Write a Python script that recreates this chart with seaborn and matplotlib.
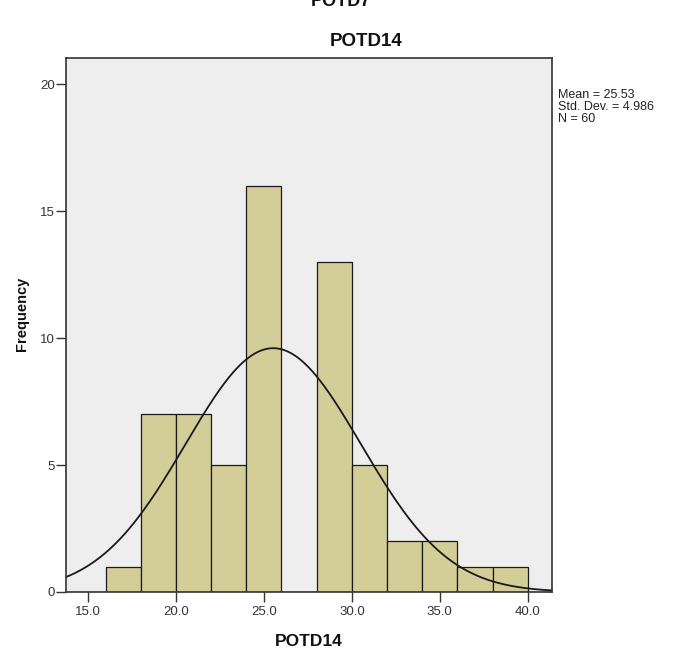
import numpy as np
import pandas as pd
import matplotlib
matplotlib.use("Agg")
import matplotlib.pyplot as plt
import seaborn as sns

# Data
bin_edges = [16, 18, 20, 22, 24, 26, 28, 30, 32, 34, 36, 38, 40]
counts = [1, 7, 7, 5, 16, 0, 13, 5, 2, 2, 1, 1]
mean_val = 25.53
std_val = 4.986
n_val = 60
x_ticks = [15.0, 20.0, 25.0, 30.0, 35.0, 40.0]
y_ticks = [0, 5, 10, 15, 20]

sns.set_style("white")
plt.rcParams['font.family'] = ['Arial', 'Liberation Sans', 'DejaVu Sans']

fig = plt.figure(figsize=(6.76, 6.55), dpi=100)
ax = fig.add_axes([66/676, 1-592/655, (552-66)/676, (592-58)/655])
ax.set_facecolor('#EEEEEE')

centers = [(a + b) / 2 for a, b in zip(bin_edges[:-1], bin_edges[1:])]
df = pd.DataFrame({"x": centers, "w": counts})
sns.histplot(data=df, x="x", weights="w", bins=bin_edges, ax=ax,
             color='#D3CD97', edgecolor='#1a1a1a', linewidth=0.9, alpha=1.0)

xlo, xhi = 13.75, 41.38
xs = np.linspace(xlo, xhi, 400)
binw = bin_edges[1] - bin_edges[0]
ys = n_val * binw / (std_val * np.sqrt(2 * np.pi)) * np.exp(-0.5 * ((xs - mean_val) / std_val) ** 2)
sns.lineplot(x=xs, y=ys, ax=ax, color='#1a1a1a', linewidth=1.3)

ax.set_xlim(xlo, xhi)
ax.set_ylim(0, 21.03)
ax.set_xticks(x_ticks)
ax.set_xticklabels([f"{t:.1f}" for t in x_ticks])
ax.set_yticks(y_ticks)
ax.set_yticklabels([str(t) for t in y_ticks])
ax.tick_params(axis='both', direction='out', length=7, width=1, color='#333333',
               labelsize=9.5, labelcolor='#333333', pad=1)
ax.tick_params(axis='x', bottom=True, pad=3)
ax.tick_params(axis='y', left=True)
for s in ax.spines.values():
    s.set_color('#333333')
    s.set_linewidth(1.2)

ax.set_xlabel("POTD14", fontsize=12.5, fontweight='bold', color='#111111')
ax.xaxis.set_label_coords(0.5, (592 - 641) / (592 - 58), transform=ax.transAxes)
ax.xaxis.label.set_va('center')
ax.set_ylabel("Frequency", fontsize=10.5, fontweight='bold', color='#111111')
ax.yaxis.set_label_coords((22 - 66) / (552 - 66), (592 - 314) / (592 - 58), transform=ax.transAxes)
ax.yaxis.label.set_va('center')

fig.text(366/676, 1-42/655, "POTD14", fontsize=13.5, fontweight='bold',
         ha='center', va='center', color='#111111')

fig.text(558/676, 1-89/655, f"Mean = {mean_val}\nStd. Dev. = {std_val}\nN = {n_val}",
         fontsize=9, va='top', ha='left', color='#222222', linespacing=1.0)

fig.text(341/676, 1-1/655, "POTD7", fontsize=13, fontweight='bold',
         ha='center', va='center', color='#111111')

fig.savefig("out.png", dpi=100)
